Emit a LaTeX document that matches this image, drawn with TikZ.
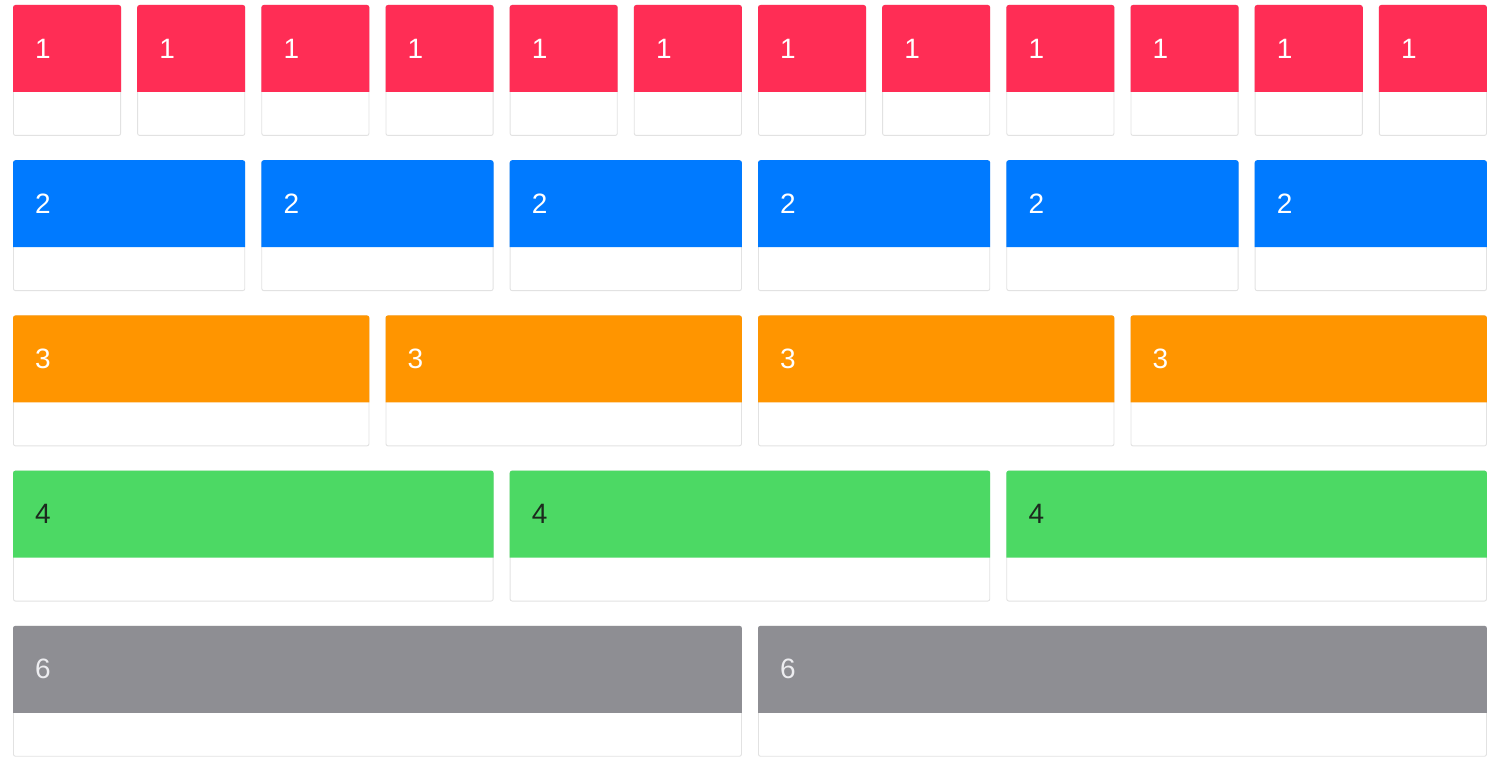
\documentclass[tikz,border=0pt]{standalone}
\usepackage{fontspec}
\setmainfont{Liberation Sans}
\usetikzlibrary{positioning,calc}
\definecolor{cardred}{HTML}{FF2D55}
\definecolor{cardblue}{HTML}{007AFF}
\definecolor{cardorange}{HTML}{FF9500}
\definecolor{cardgreen}{HTML}{4CD964}
\definecolor{cardgray}{HTML}{8E8E93}
\definecolor{cardline}{HTML}{E2E2E2}
\definecolor{darktxt}{HTML}{1C2A1E}
\definecolor{softtxt}{HTML}{EDEDF0}

\begin{document}
\begin{tikzpicture}[x=1pt,y=1pt,
  card/.style={draw=cardline,line width=0.9pt,fill=white,rounded corners=2pt,
               minimum height=130pt,inner sep=0pt,anchor=north west},
  cardnum/.style={anchor=west,inner sep=0pt,font=\fontsize{28}{32}\selectfont}]
  \useasboundingbox (0,0) rectangle (1496,-757);
  % one row per width: 12, 6, 4, 3 and 2 cards
  \foreach \row/\n/\num/\col/\txt in {1/12/1/cardred/white,2/6/2/cardblue/white,
      3/4/3/cardorange/white,4/3/4/cardgreen/darktxt,5/2/6/cardgray/softtxt}{
    \pgfmathsetmacro{\w}{(1473-(\n-1)*17)/\n}
    \pgfmathsetmacro{\ytop}{-5-155.2*(\row-1)}
    \foreach \i in {1,...,\n}{
      \pgfmathsetmacro{\x}{13+(\i-1)*(\w+17)}
      \node[card,minimum width=\w pt] (card-\row-\i) at (\x,\ytop) {};
      \fill[\col,rounded corners=2.5pt] ([yshift=-87pt]card-\row-\i.north west)
        -- (card-\row-\i.north west) -- (card-\row-\i.north east) [sharp corners]
        -- ([yshift=-87pt]card-\row-\i.north east) -- cycle;
      \node[cardnum,text=\txt] (num-\row-\i)
        at ([xshift=22pt,yshift=-43.5pt]card-\row-\i.north west) {\num};
    }
  }
\end{tikzpicture}
\end{document}
